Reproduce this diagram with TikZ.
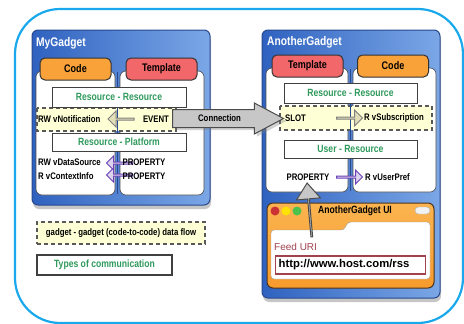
\documentclass[tikz,border=0pt]{standalone}
\usepackage{fontspec}
\setmainfont{Liberation Sans}
\newfontfamily\narrowsf[FakeStretch=0.82]{Liberation Sans}
\usetikzlibrary{shapes.arrows,shadows}

\definecolor{frameblue}{HTML}{19A8EC}
\definecolor{gadgetdark}{HTML}{2F62C0}
\definecolor{gadgetlight}{HTML}{7BA7E6}
\definecolor{gadgetedge}{HTML}{27498F}
\definecolor{codeorange}{HTML}{F9A23A}
\definecolor{tmplred}{HTML}{F2676A}
\definecolor{resgreen}{HTML}{2F9A5C}
\definecolor{bandyellow}{HTML}{FFFFD6}
\definecolor{arrowpurple}{HTML}{6B40B8}
\definecolor{lavender}{HTML}{DCD4EC}
\definecolor{khaki}{HTML}{E2DEB8}
\definecolor{uiorange}{HTML}{F79A2C}
\definecolor{uilight}{HTML}{FBB450}
\definecolor{urlred}{HTML}{A3424F}

\begin{document}
\begin{tikzpicture}[x=1pt, y=-1pt,
    gadget/.style={draw=gadgetedge, line width=1pt, rounded corners=6pt, left color=gadgetdark, right color=gadgetlight,
      drop shadow={shadow xshift=1pt, shadow yshift=-4pt, opacity=0.45}},
    panel/.style={draw=black!70, fill=white, rounded corners=6pt, line width=0.6pt},
    tab/.style={draw=black!80, line width=1pt, rounded corners=5pt, minimum width=71pt, minimum height=22pt, inner sep=0pt,
      font=\narrowsf\bfseries\fontsize{11}{12}\selectfont},
    resbox/.style={draw=black!75, fill=white, line width=1pt, minimum width=134pt, minimum height=20pt, inner sep=0pt,
      text=resgreen, font=\narrowsf\bfseries\fontsize{10.5}{12}\selectfont},
    band/.style={draw=black!65, fill=bandyellow, dash pattern=on 4pt off 3pt, line width=1.4pt},
    lbl/.style={inner sep=0pt, font=\narrowsf\bfseries\fontsize{9.5}{11}\selectfont},
    title/.style={inner sep=0pt, anchor=west, text=white, font=\narrowsf\bfseries\fontsize{12.5}{14}\selectfont},
    smallarrow/.style={single arrow, line width=1pt, minimum height=26pt, minimum width=16pt, single arrow head extend=3.5pt,
      single arrow tip angle=90, inner sep=0pt},
    flowarrow/.style={smallarrow, draw=black!50, fill=khaki},
    proparrow/.style={smallarrow, draw=arrowpurple, fill=lavender, minimum width=14pt, single arrow head extend=3pt},
    bigarrow/.style={single arrow, draw=black!70, fill=black!22, line width=1pt, drop shadow={opacity=0.35}}
  ]
  \useasboundingbox (0,0) rectangle (464,324);

  % outer frame
  \draw[frameblue, line width=2.2pt, rounded corners=45pt] (15,9) rectangle (463,323);

  % MyGadget
  \draw[gadget] (32,30) rectangle (210,205);
  \node[title] (mytitle) at (36,43) {MyGadget};
  \draw[panel] (36,71) rectangle (115,195);
  \draw[panel] (120,71) rectangle (204,195);
  \draw[band] (37,108) rectangle (176,131);
  \draw[gadgetedge, line width=1.6pt] (117.5,72) -- (117.5,194);
  \node[tab, fill=codeorange] (mycode) at (75.5,69) {Code};
  \node[tab, fill=tmplred] (mytmpl) at (161.5,69) {Template};
  \node[resbox] (myresres) at (119,97) {Resource - Resource};
  \node[lbl, anchor=west] (notif) at (38,119) {RW vNotification};
  \node[flowarrow, shape border rotate=180] (evarrow) at (121.5,119) {};
  \node[lbl] (event) at (156,119) {EVENT};
  \node[resbox, minimum height=18pt] (myresplat) at (119,142) {Resource - Platform};
  \node[lbl, anchor=west] (datasrc) at (38,162) {RW vDataSource};
  \node[lbl, anchor=west] (ctxinfo) at (38,176) {R vContextInfo};
  \node[proparrow, shape border rotate=180] (dsarrow) at (120,163) {};
  \node[proparrow, shape border rotate=180] (ciarrow) at (120,175) {};
  \node[lbl] (prop1) at (144,162) {PROPERTY};
  \node[lbl] (prop2) at (144,176) {PROPERTY};

  % AnotherGadget
  \draw[gadget] (262,30) rectangle (440,298);
  \node[title] (antitle) at (267,42) {AnotherGadget};
  \draw[panel] (266,68) rectangle (348,192);
  \draw[panel] (353,68) rectangle (436,192);
  \draw[band] (280,106) rectangle (432,130);
  \draw[gadgetedge, line width=1.6pt] (350.5,69) -- (350.5,191);
  \node[tab, fill=tmplred] (antmpl) at (307.5,66) {Template};
  \node[tab, fill=codeorange] (ancode) at (393,66) {Code};
  \node[resbox, minimum width=133pt] (anresres) at (350.5,93) {Resource - Resource};
  \node[lbl, anchor=west] (slot) at (285,118) {SLOT};
  \node[flowarrow] (slotarrow) at (349,118) {};
  \node[lbl, anchor=west] (subscr) at (364,118) {R vSubscription};
  \node[resbox, minimum width=133pt, minimum height=18pt] (anuserres) at (350.5,149) {User - Resource};
  \node[lbl] (prop3) at (308,177) {PROPERTY};
  \node[proparrow] (prefarrow) at (349,177) {};
  \node[lbl, anchor=west] (userpref) at (365,177) {R vUserPref};

  % AnotherGadget UI window
  \draw[draw=black!60!brown, line width=1pt, rounded corners=6pt, top color=uilight, bottom color=uiorange] (267,203) rectangle (434,288);
  \fill[red!75!black!80!white] (275,211) circle (4.5pt);
  \fill[yellow!85!orange] (286,211) circle (4.5pt);
  \fill[green!65!black!70!white] (297,211) circle (4.5pt);
  \node[inner sep=0pt, anchor=west, font=\narrowsf\bfseries\fontsize{10.5}{12}\selectfont] (uititle) at (318,211) {AnotherGadget UI};
  \draw[fill=black!5, draw=black!30, rounded corners=3.5pt] (415,207) rectangle (430,214);
  \draw[fill=white, draw=black!40, rounded corners=3pt] (271,279) -- (271,230) -- (344,230) -- (348,222) -- (430,222) -- (430,279) -- cycle;
  \node[anchor=west, inner sep=0pt, text=urlred, font=\fontsize{10}{12}\selectfont] (feedlbl) at (274,247) {Feed URI};
  \node[draw=urlred, line width=1.3pt, fill=white, anchor=west, text width=144pt, minimum height=18pt, inner xsep=3pt,
    align=left, font=\bfseries\fontsize{11.3}{13}\selectfont] (url) at (275,265) {http://www.host.com/rss};
  \node[single arrow, draw=black!70, fill=black!22, line width=1pt, minimum height=54pt, minimum width=24pt,
    single arrow head extend=6.5pt, single arrow tip angle=74, inner sep=0pt, rotate=95] (feedarrow) at (309.5,210.5) {};

  % connection between gadgets
  \node[bigarrow, anchor=tail, minimum height=111pt, text height=7pt, text depth=2pt, inner xsep=0pt, inner ysep=4pt,
    single arrow head extend=6.5pt, single arrow tip angle=56, font=\narrowsf\bfseries\fontsize{9.5}{11}\selectfont] (conn) at (172,118.5) {Connection};

  % legend
  \node[band, minimum width=168pt, minimum height=22pt, lbl] (flowkey) at (121,233) {gadget - gadget (code-to-code) data flow};
  \node[draw=black!75, line width=1.5pt, fill=white, minimum width=135pt, minimum height=20pt, inner sep=0pt, text=resgreen,
    font=\narrowsf\bfseries\fontsize{10.5}{12}\selectfont] (typeskey) at (104.5,265) {Types of communication};
\end{tikzpicture}
\end{document}
